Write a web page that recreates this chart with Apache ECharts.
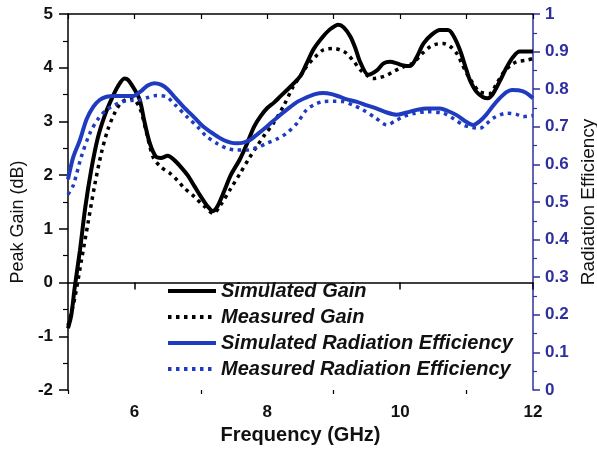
<!DOCTYPE html>
<html>
<head>
<meta charset="utf-8">
<script src="https://cdn.jsdelivr.net/npm/echarts@6/dist/echarts.min.js"></script>
<style>html,body{margin:0;padding:0;background:#fff}#c{width:597px;height:451px}</style>
</head>
<body>
<div id="c"></div>
<script>
// ---- data (frequency in GHz, value) ----
const simGain = [[5.0,-0.85],[5.05,-0.6],[5.1,-0.1],[5.18,0.6],[5.26,1.4],[5.35,2.1],[5.45,2.7],[5.55,3.1],[5.65,3.4],[5.75,3.65],[5.85,3.8],[5.9,3.78],[6.0,3.6],[6.08,3.4],[6.15,3.0],[6.23,2.6],[6.32,2.35],[6.4,2.32],[6.5,2.36],[6.6,2.28],[6.7,2.15],[6.8,2.0],[6.9,1.8],[7.0,1.6],[7.1,1.42],[7.18,1.33],[7.25,1.42],[7.35,1.7],[7.45,2.0],[7.59,2.3],[7.7,2.6],[7.8,2.9],[7.9,3.1],[8.0,3.25],[8.1,3.35],[8.2,3.47],[8.35,3.65],[8.5,3.85],[8.6,4.1],[8.7,4.35],[8.84,4.58],[8.95,4.72],[9.07,4.8],[9.15,4.75],[9.25,4.58],[9.33,4.35],[9.4,4.1],[9.52,3.87],[9.65,3.95],[9.75,4.08],[9.85,4.11],[9.95,4.08],[10.05,4.04],[10.15,4.03],[10.25,4.2],[10.35,4.45],[10.48,4.62],[10.6,4.7],[10.72,4.7],[10.8,4.6],[10.9,4.33],[11.0,3.95],[11.05,3.77],[11.15,3.55],[11.25,3.45],[11.32,3.43],[11.4,3.52],[11.5,3.75],[11.6,4.0],[11.7,4.2],[11.8,4.3],[12.0,4.3]];
const measGain = [[5.0,-0.8],[5.1,-0.3],[5.2,0.4],[5.3,1.1],[5.4,1.8],[5.5,2.4],[5.6,2.85],[5.7,3.15],[5.8,3.35],[5.9,3.42],[5.96,3.43],[6.08,3.25],[6.18,2.8],[6.28,2.34],[6.4,2.15],[6.54,2.03],[6.65,1.9],[6.75,1.76],[6.9,1.6],[7.05,1.42],[7.19,1.29],[7.3,1.45],[7.45,1.75],[7.59,2.03],[7.72,2.3],[7.84,2.53],[7.96,2.75],[8.09,2.96],[8.25,3.3],[8.39,3.65],[8.5,3.85],[8.59,4.02],[8.72,4.2],[8.84,4.33],[8.99,4.36],[9.1,4.33],[9.19,4.27],[9.3,4.12],[9.4,3.96],[9.5,3.86],[9.59,3.8],[9.7,3.82],[9.8,3.86],[9.9,3.93],[10.0,3.99],[10.1,4.04],[10.2,4.09],[10.32,4.25],[10.45,4.39],[10.55,4.44],[10.65,4.45],[10.75,4.4],[10.85,4.27],[10.92,4.1],[11.0,3.9],[11.1,3.7],[11.2,3.55],[11.35,3.52],[11.45,3.7],[11.55,3.9],[11.65,4.03],[11.75,4.11],[11.9,4.14],[12.0,4.17]];
const simEff = [[5.0,0.56],[5.08,0.62],[5.18,0.665],[5.28,0.72],[5.38,0.753],[5.48,0.772],[5.58,0.78],[5.7,0.782],[5.85,0.782],[5.98,0.782],[6.1,0.795],[6.2,0.81],[6.3,0.816],[6.4,0.812],[6.5,0.8],[6.6,0.78],[6.74,0.753],[6.9,0.725],[7.04,0.70],[7.2,0.68],[7.34,0.665],[7.45,0.658],[7.54,0.656],[7.64,0.658],[7.74,0.665],[7.85,0.68],[7.99,0.70],[8.15,0.725],[8.29,0.745],[8.44,0.765],[8.59,0.778],[8.72,0.787],[8.84,0.79],[8.97,0.787],[9.09,0.78],[9.2,0.773],[9.34,0.767],[9.5,0.757],[9.64,0.749],[9.8,0.738],[9.95,0.732],[10.1,0.738],[10.25,0.745],[10.4,0.749],[10.6,0.749],[10.72,0.742],[10.85,0.731],[10.98,0.715],[11.1,0.705],[11.2,0.715],[11.3,0.733],[11.4,0.756],[11.5,0.776],[11.6,0.792],[11.68,0.798],[11.78,0.797],[11.88,0.792],[12.0,0.776]];
const measEff = [[5.0,0.52],[5.08,0.545],[5.2,0.62],[5.33,0.683],[5.45,0.72],[5.58,0.745],[5.7,0.758],[5.83,0.767],[5.95,0.77],[6.08,0.771],[6.2,0.778],[6.33,0.783],[6.48,0.78],[6.62,0.757],[6.79,0.727],[6.95,0.70],[7.09,0.674],[7.25,0.655],[7.39,0.643],[7.55,0.638],[7.69,0.638],[7.85,0.645],[7.99,0.656],[8.15,0.668],[8.29,0.683],[8.45,0.71],[8.59,0.745],[8.72,0.76],[8.84,0.767],[9.0,0.768],[9.14,0.767],[9.3,0.757],[9.44,0.745],[9.62,0.725],[9.8,0.705],[9.92,0.715],[10.05,0.727],[10.2,0.735],[10.4,0.74],[10.65,0.736],[10.8,0.722],[10.95,0.705],[11.08,0.698],[11.2,0.696],[11.3,0.708],[11.4,0.723],[11.6,0.736],[11.75,0.733],[11.85,0.727],[12.0,0.73]];
const seriesNames = ['Simulated Gain','Measured Gain','Simulated Radiation Efficiency','Measured Radiation Efficiency'];
const xMajorLabels = [6,8,10,12];
const xMinorTicks = [5,7,9,11];

const FONT = 'Liberation Sans, Arial, sans-serif';
const BLACK = '#000000';
const BLUE = '#1f3cc0';
const AXBLUE = '#2f2fa0';

const chart = echarts.init(document.getElementById('c'), null, {renderer:'canvas'});
chart.setOption({
  animation: false,
  backgroundColor: '#ffffff',
  grid: {left: 68, right: 64, top: 14, bottom: 61, containLabel: false, outerBoundsMode: 'none'},
  legend: {
    orient: 'vertical', left: 161, top: 276,
    itemWidth: 48, itemHeight: 12, itemGap: 6,
    data: seriesNames,
    itemStyle: {opacity: 0},
    lineStyle: {width: 4},
    textStyle: {fontFamily: FONT, fontSize: 20, fontStyle: 'italic', fontWeight: 'bold', color: '#111', lineHeight: 20}
  },
  xAxis: [
    {type:'value', min:5, max:12, interval:1, position:'bottom',
     axisLine:{show:true, lineStyle:{color:BLACK, width:1.5}},
     axisTick:{show:true, customValues:xMajorLabels, length:7, lineStyle:{color:BLACK, width:1.5}},
     axisLabel:{customValues:xMajorLabels, fontFamily:FONT, fontSize:17, fontWeight:'bold', color:'#111', margin:14},
     splitLine:{show:false},
     name:'Frequency (GHz)', nameLocation:'middle', nameGap:33,
     nameTextStyle:{fontFamily:FONT, fontSize:20, fontWeight:'bold', color:'#111'}},
    {type:'value', min:5, max:12, interval:1, position:'bottom',
     axisLine:{show:false},
     axisTick:{show:true, customValues:xMinorTicks, length:4, lineStyle:{color:BLACK, width:1.2}},
     axisLabel:{show:false}, splitLine:{show:false}},
    {type:'value', min:5, max:12, interval:1, position:'top',
     axisLine:{show:true, lineStyle:{color:BLACK, width:1.5}},
     axisTick:{show:true, inside:true, length:5, lineStyle:{color:BLACK, width:1.2}},
     axisLabel:{show:false}, splitLine:{show:false}}
  ],
  yAxis: [
    {type:'value', min:-2, max:5, interval:1, position:'left',
     axisLine:{show:true, lineStyle:{color:BLACK, width:1.5}},
     axisTick:{show:true, length:9, lineStyle:{color:BLACK, width:1.5}},
     minorTick:{show:true, splitNumber:2, length:5, lineStyle:{color:BLACK, width:1.2}},
     axisLabel:{fontFamily:FONT, fontSize:17, fontWeight:'bold', color:'#111', margin:15},
     splitLine:{show:false},
     name:'Peak Gain (dB)', nameLocation:'middle', nameGap:33,
     nameTextStyle:{fontFamily:FONT, fontSize:18, color:'#111', padding:[0,40,0,0]}},
    {type:'value', min:0, max:1, interval:0.1, position:'right',
     axisLine:{show:true, lineStyle:{color:AXBLUE, width:1.5}},
     axisTick:{show:true, length:7, lineStyle:{color:AXBLUE, width:1.5}},
     minorTick:{show:true, splitNumber:2, length:4, lineStyle:{color:AXBLUE, width:1.2}},
     axisLabel:{fontFamily:FONT, fontSize:17, fontWeight:'bold', color:AXBLUE, margin:12,
       formatter: v => (Math.round(v*10)/10).toString()},
     splitLine:{show:false},
     name:'Radiation Efficiency', nameLocation:'middle', nameGap:45,
     nameTextStyle:{fontFamily:FONT, fontSize:19, color:'#111'}}
  ],
  series: [
    {name:seriesNames[0], type:'line', xAxisIndex:0, yAxisIndex:0, data:simGain, symbol:'none', smooth:0.3,
     color:BLACK, lineStyle:{color:BLACK, width:4}},
    {name:seriesNames[1], type:'line', xAxisIndex:0, yAxisIndex:0, data:measGain, symbol:'none', smooth:0.3,
     color:BLACK, lineStyle:{color:BLACK, width:3.5, type:[3.5,4.5]}},
    {name:seriesNames[2], type:'line', xAxisIndex:0, yAxisIndex:1, data:simEff, symbol:'none', smooth:0.3,
     color:BLUE, lineStyle:{color:BLUE, width:4}},
    {name:seriesNames[3], type:'line', xAxisIndex:0, yAxisIndex:1, data:measEff, symbol:'none', smooth:0.3,
     color:BLUE, lineStyle:{color:BLUE, width:3.5, type:[3.5,4.5]}}
  ]
});
</script>
</body>
</html>
